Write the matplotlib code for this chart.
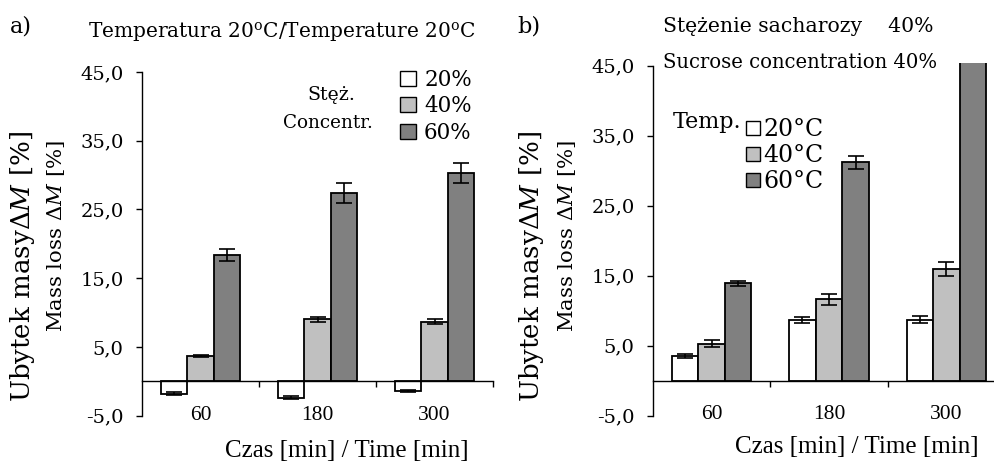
import numpy as np
import matplotlib
matplotlib.use('Agg')
import matplotlib.pyplot as plt
from matplotlib.patches import Patch

plt.rcParams['font.family'] = 'DejaVu Serif'
plt.rcParams['mathtext.fontset'] = 'custom'
plt.rcParams['mathtext.rm'] = 'DejaVu Serif'
plt.rcParams['mathtext.it'] = 'DejaVu Serif:italic'

# data
times = ['60', '180', '300']

# a) temperature 20 C, sucrose concentration 20/40/60 %
conc_labels = ['20%', '40%', '60%']
conc_vals = [[-1.8, -2.4, -1.4],
             [3.7, 9.0, 8.7],
             [18.4, 27.4, 30.3]]
conc_err = [[0.2, 0.2, 0.2],
            [0.2, 0.3, 0.3],
            [0.9, 1.4, 1.4]]

# b) concentration 40 %, temperature 20/40/60 C
temp_labels = ['20°C', '40°C', '60°C']
temp_vals = [[3.5, 8.7, 8.7],
             [5.3, 11.6, 16.0],
             [13.9, 31.2, 52.0]]
temp_err = [[0.3, 0.4, 0.5],
            [0.5, 0.8, 1.0],
            [0.4, 0.9, 1.0]]

colors = ['white', '#c0c0c0', '#808080']
yticks = [-5, 5, 15, 25, 35, 45]
XFONT = 'Liberation Serif'   # x axis texts look like plain Times

W, H = 994, 461
fig = plt.figure(figsize=(W / 100, H / 100), dpi=100)


def px(x, y):
    # pixel position -> figure fraction
    return x / W, 1 - y / H


def bar_panel(rect, vals, errs, ytop, yfs):
    ax = fig.add_axes(rect)
    x = np.arange(len(times))
    bw = 0.226
    for i in range(3):
        ax.bar(x + (i - 1) * bw, vals[i], bw, color=colors[i],
               edgecolor='black', linewidth=1.3, zorder=2)
        ax.errorbar(x + (i - 1) * bw, vals[i], yerr=errs[i], fmt='none',
                    ecolor='black', elinewidth=1.2, capsize=6,
                    capthick=1.2, zorder=3)
    ax.set_xlim(-0.5, 2.5)
    ax.set_ylim(-5, ytop)
    ax.spines['top'].set_visible(False)
    ax.spines['right'].set_visible(False)
    ax.spines['left'].set_bounds(-5, 45)
    ax.spines['bottom'].set_position(('data', 0))
    ax.spines['left'].set_linewidth(1.0)
    ax.spines['bottom'].set_linewidth(1.0)
    ax.set_yticks(yticks)
    ax.set_yticklabels([('%.1f' % v).replace('.', ',') for v in yticks])
    ax.tick_params(axis='y', direction='out', length=4.3, width=1,
                   pad=9, labelsize=yfs)
    ax.set_xticks([0.5, 1.5, 2.5], minor=True)
    ax.tick_params(axis='x', which='minor', direction='out', length=4, width=1)
    ax.tick_params(axis='x', which='major', length=0, pad=17.5)
    ax.set_xticks(x)
    ax.set_xticklabels(times, fontfamily=XFONT, fontsize=15.5)
    return ax


axa = bar_panel([142 / W, 1 - 415.7 / H, 351 / W, (415.7 - 72) / H],
                conc_vals, conc_err, 45, 14)
axb = bar_panel([653 / W, 1 - 415.7 / H, 352 / W, (415.7 - 63.3) / H],
                temp_vals, temp_err, 45.33, 14)


def legend(ax, labels, x, y, fs, hl, hh, pad, spacing):
    handles = [Patch(facecolor=c, edgecolor='black', linewidth=1.0)
               for c in colors]
    ax.legend(handles, labels, loc='upper left', bbox_to_anchor=px(x, y),
              bbox_transform=fig.transFigure, frameon=False, fontsize=fs,
              handlelength=hl, handleheight=hh, handletextpad=pad,
              labelspacing=spacing, borderpad=0, borderaxespad=0)


legend(axa, conc_labels, 400, 69, 15.5, 0.72, 0.7, 0.4, 0.2)
legend(axb, temp_labels, 746, 118.5, 17, 0.59, 0.55, 0.13, 0.12)

# panel a texts
fig.text(*px(10, 32), 'a)', fontsize=16, va='baseline')
fig.text(*px(282, 38), 'Temperatura 20$^\\mathrm{o}$C/Temperature 20$^\\mathrm{o}$C',
         fontsize=14.5, ha='center', va='baseline')
fig.text(*px(331, 100), 'Stęż.', fontsize=13.6, ha='center', va='baseline')
fig.text(*px(328, 128), 'Concentr.', fontsize=13.2, ha='center', va='baseline')

# panel b texts
fig.text(*px(517, 32), 'b)', fontsize=16, va='baseline')
fig.text(*px(663, 32), 'Stężenie sacharozy    40%', fontsize=14.7, va='baseline')
fig.text(*px(663, 68), 'Sucrose concentration 40%', fontsize=14.1, va='baseline')
fig.text(*px(673, 128), 'Temp.', fontsize=16, va='baseline')

ylab1 = 'Ubytek masy$\\mathit{ΔM}$ [%]'
ylab2 = 'Mass loss $\\mathit{ΔM}$ [%]'
for xa, xb in [(23, 56), (532, 567)]:
    fig.text(*px(xa, 266.5), ylab1, fontsize=18.8, rotation=90,
             ha='center', va='center')
    fig.text(*px(xb, 236), ylab2, fontsize=15.3, rotation=90,
             ha='center', va='center')

fig.text(*px(346.5, 457), 'Czas [min] / Time [min]', fontsize=18,
         family=XFONT, ha='center', va='baseline')
fig.text(*px(857, 453), 'Czas [min] / Time [min]', fontsize=18,
         family=XFONT, ha='center', va='baseline')

fig.savefig('out.png', dpi=100)
